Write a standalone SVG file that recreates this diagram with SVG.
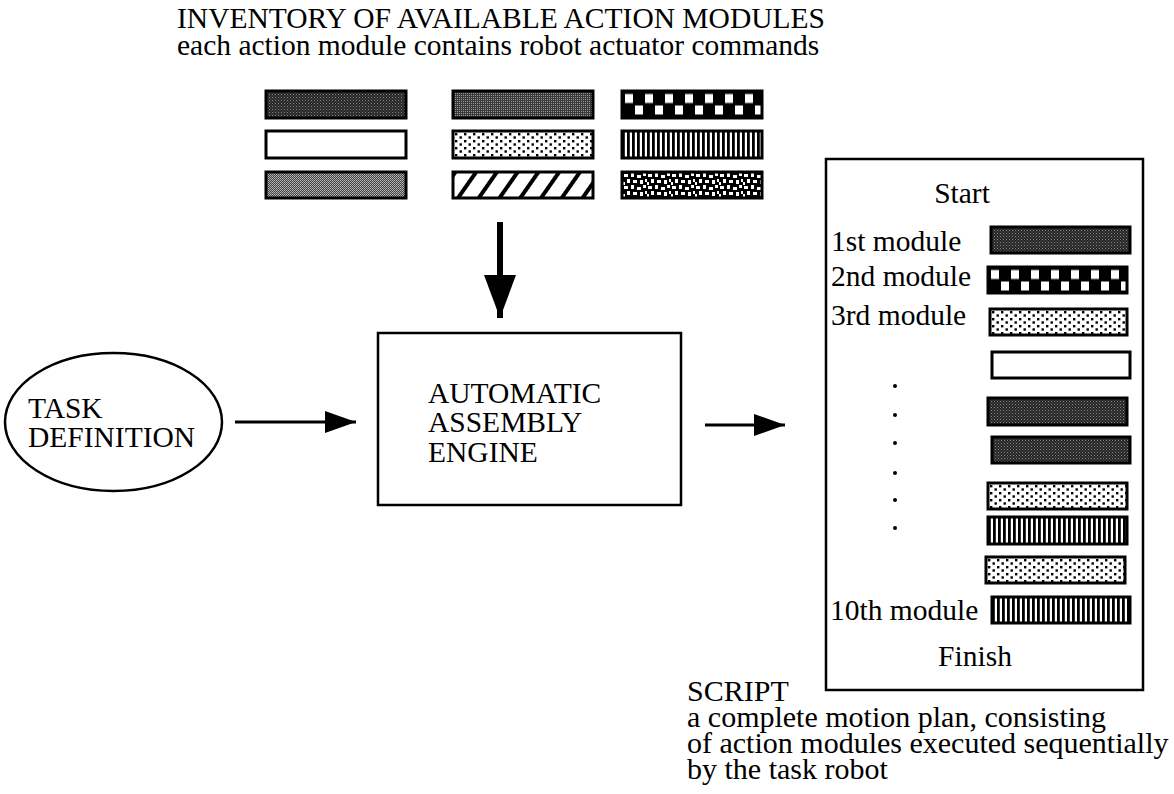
<svg xmlns="http://www.w3.org/2000/svg" width="1174" height="794" viewBox="0 0 1174 794">
  <style>
    text { font-family: "Liberation Serif", "Times New Roman", serif; fill: #000; font-size: 29.5px; }
    .note { font-size: 30px; }
    .bar { stroke: #000; stroke-width: 3; }
    .outline { fill: #fff; stroke: #000; stroke-width: 2.5; }
    .conn { stroke: #000; fill: none; }
  </style>
  <defs>
    <!-- dark grey stipple -->
    <pattern id="pDark" width="3" height="3" patternUnits="userSpaceOnUse">
      <rect width="3" height="3" fill="#262626"/>
      <rect x="0" y="0" width="1" height="1" fill="#888"/>
      <rect x="1.5" y="1.5" width="1" height="1" fill="#666"/>
    </pattern>
    <!-- medium-dark grey stipple -->
    <pattern id="pMidDark" width="2" height="2" patternUnits="userSpaceOnUse">
      <rect width="2" height="2" fill="#3a3a3a"/>
      <rect x="0" y="0" width="1" height="1" fill="#9a9a9a"/>
    </pattern>
    <!-- medium grey stipple -->
    <pattern id="pMid" width="2" height="2" patternUnits="userSpaceOnUse">
      <rect width="2" height="2" fill="#484848"/>
      <rect x="0" y="0" width="1" height="1" fill="#b4b4b4"/>
      <rect x="1" y="1" width="1" height="1" fill="#a0a0a0"/>
    </pattern>
    <!-- scattered dots -->
    <pattern id="pDots" width="9" height="7" patternUnits="userSpaceOnUse" x="1" y="1">
      <rect width="9" height="7" fill="#fff"/>
      <rect x="1" y="1" width="2.4" height="2.4" fill="#000"/>
      <rect x="5.5" y="4.3" width="2.4" height="2.4" fill="#000"/>
    </pattern>
    <!-- checkerboard, two rows per bar -->
    <pattern id="pCheck" width="20" height="24" patternUnits="userSpaceOnUse" x="1" y="1.5">
      <rect width="20" height="24" fill="#000"/>
      <rect x="2" y="1.5" width="8" height="9" fill="#fff"/>
      <rect x="12" y="13" width="8" height="9" fill="#fff"/>
    </pattern>
    <!-- vertical hairline stripes -->
    <pattern id="pVert" width="5" height="10" patternUnits="userSpaceOnUse">
      <rect width="5" height="10" fill="#fff"/>
      <rect x="0" y="0" width="2.8" height="10" fill="#000"/>
    </pattern>
    <!-- diagonal hatching -->
    <pattern id="pDiag" width="17" height="17" patternUnits="userSpaceOnUse" patternTransform="rotate(35)">
      <rect width="17" height="17" fill="#fff"/>
      <rect x="0" y="0" width="4" height="17" fill="#000"/>
    </pattern>
    <!-- irregular blotches -->
    <pattern id="pBlot" width="24" height="12" patternUnits="userSpaceOnUse" x="1" y="1">
      <rect width="24" height="12" fill="#000"/>
      <rect x="1" y="1" width="4" height="3" fill="#fff"/>
      <rect x="8" y="0" width="3" height="4" fill="#fff"/>
      <rect x="14" y="2" width="4" height="3" fill="#fff"/>
      <rect x="20" y="0" width="3" height="3" fill="#fff"/>
      <rect x="4" y="6" width="3" height="4" fill="#fff"/>
      <rect x="10" y="7" width="4" height="3" fill="#fff"/>
      <rect x="17" y="7" width="3" height="4" fill="#fff"/>
      <rect x="22" y="6" width="2" height="3" fill="#fff"/>
      <rect x="0" y="9" width="2" height="3" fill="#fff"/>
    </pattern>
    <marker id="headSm" markerUnits="userSpaceOnUse" markerWidth="31" markerHeight="22" refX="31" refY="11" orient="auto">
      <path d="M0,0 L31,11 L0,22 Z" fill="#000"/>
    </marker>
    <marker id="headLg" markerUnits="userSpaceOnUse" markerWidth="43" markerHeight="32" refX="43" refY="16" orient="auto">
      <path d="M0,0 L43,16 L0,32 Z" fill="#000"/>
    </marker>
  </defs>

  <rect width="1174" height="794" fill="#fff"/>

  <!-- inventory of action modules; each bar is drawn at its own origin so its fill pattern lines up -->
  <g id="inventory">
    <text x="177" y="28">INVENTORY OF AVAILABLE ACTION MODULES</text>
    <text x="177" y="55">each action module contains robot actuator commands</text>
    <g transform="translate(266,91)"><rect class="bar" width="140" height="27" fill="url(#pDark)"/></g>
    <g transform="translate(266,131)"><rect class="bar" width="140" height="27" fill="#fff"/></g>
    <g transform="translate(266,172)"><rect class="bar" width="140" height="26" fill="url(#pMid)"/></g>
    <g transform="translate(453,91)"><rect class="bar" width="140" height="27" fill="url(#pMidDark)"/></g>
    <g transform="translate(453,131)"><rect class="bar" width="140" height="27" fill="url(#pDots)"/></g>
    <g transform="translate(453,172)"><rect class="bar" width="140" height="26" fill="url(#pDiag)"/></g>
    <g transform="translate(622,91)"><rect class="bar" width="140" height="27" fill="url(#pCheck)"/></g>
    <g transform="translate(622,131)"><rect class="bar" width="140" height="27" fill="url(#pVert)"/></g>
    <g transform="translate(622,172)"><rect class="bar" width="140" height="26" fill="url(#pBlot)"/></g>
  </g>

  <!-- task definition -->
  <g id="task-definition">
    <ellipse class="outline" cx="113.5" cy="422" rx="108.5" ry="69"/>
    <text x="28" y="418">TASK</text>
    <text x="28" y="447">DEFINITION</text>
  </g>

  <!-- assembly engine -->
  <g id="assembly-engine">
    <rect class="outline" x="378" y="333" width="303" height="172"/>
    <text x="428" y="403">AUTOMATIC</text>
    <text x="428" y="432">ASSEMBLY</text>
    <text x="428" y="462">ENGINE</text>
  </g>

  <!-- resulting script -->
  <g id="script">
    <rect class="outline" x="826" y="159" width="317" height="531"/>
    <text x="962" y="203" text-anchor="middle">Start</text>
    <text x="831" y="251">1st module</text>
    <text x="831" y="286">2nd module</text>
    <text x="831" y="325">3rd module</text>
    <text x="830" y="620">10th module</text>
    <text x="975" y="666" text-anchor="middle">Finish</text>
    <g transform="translate(991,227)"><rect class="bar" width="139" height="26" fill="url(#pDark)"/></g>
    <g transform="translate(988,267)"><rect class="bar" width="139" height="26" fill="url(#pCheck)"/></g>
    <g transform="translate(990,309)"><rect class="bar" width="137" height="26" fill="url(#pDots)"/></g>
    <g transform="translate(992,352)"><rect class="bar" width="138" height="26" fill="#fff"/></g>
    <g transform="translate(988,398)"><rect class="bar" width="139" height="27" fill="url(#pDark)"/></g>
    <g transform="translate(992,437)"><rect class="bar" width="138" height="26" fill="url(#pDark)"/></g>
    <g transform="translate(988,483)"><rect class="bar" width="139" height="26" fill="url(#pDots)"/></g>
    <g transform="translate(988,517)"><rect class="bar" width="139" height="27" fill="url(#pVert)"/></g>
    <g transform="translate(986,557)"><rect class="bar" width="139" height="26" fill="url(#pDots)"/></g>
    <g transform="translate(992,597)"><rect class="bar" width="138" height="26" fill="url(#pVert)"/></g>
    <g fill="#000">
      <circle cx="895" cy="386" r="2"/>
      <circle cx="895" cy="415" r="2"/>
      <circle cx="895" cy="443" r="2"/>
      <circle cx="895" cy="473" r="2"/>
      <circle cx="895" cy="500" r="2"/>
      <circle cx="895" cy="528" r="2"/>
    </g>
    <text class="note" x="687" y="701">SCRIPT</text>
    <text class="note" x="687" y="727">a complete motion plan, consisting</text>
    <text class="note" x="687" y="753">of action modules executed sequentially</text>
    <text class="note" x="687" y="779">by the task robot</text>
  </g>

  <!-- connectors -->
  <g id="connectors" class="conn">
    <line x1="500" y1="222" x2="500" y2="318" stroke-width="6" marker-end="url(#headLg)"/>
    <line x1="235" y1="422" x2="356" y2="422" stroke-width="3" marker-end="url(#headSm)"/>
    <line x1="705" y1="425" x2="785" y2="425" stroke-width="3" marker-end="url(#headSm)"/>
  </g>
</svg>
